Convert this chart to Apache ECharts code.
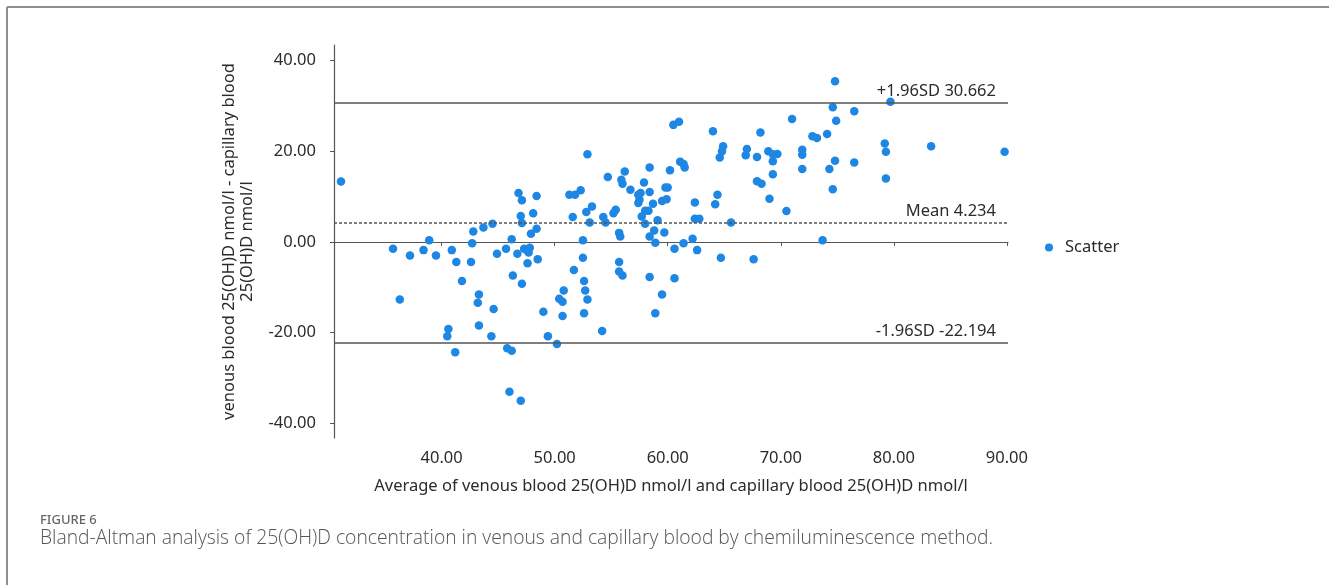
<!DOCTYPE html>
<html>
<head>
<meta charset="utf-8">
<title>Bland-Altman analysis of 25(OH)D</title>
<script src="https://cdn.jsdelivr.net/npm/echarts@6/dist/echarts.min.js"></script>
<style>
  html, body { margin: 0; padding: 0; background: #ffffff; }
  #chart { width: 1329px; height: 585px; }
</style>
</head>
<body>
<div id="chart"></div>
<script>
// Average of venous and capillary 25(OH)D (nmol/l), one entry per subject
const avgValues = [
  31.1, 35.7, 36.3, 37.2, 38.4, 38.9, 39.5, 40.9, 41.3, 41.8,
  40.6, 40.5, 41.2, 42.6, 42.7, 42.8, 43.7, 44.5, 43.3, 43.2,
  43.3, 44.6, 44.4, 44.9, 45.7, 46.2, 46.3, 47.1, 45.8, 46.2,
  46.0, 47.0, 46.8, 47.1, 48.4, 47.0, 47.1, 48.1, 47.9, 48.4,
  46.7, 47.3, 47.6, 47.8, 47.7, 47.6, 48.5, 49.0, 49.4, 50.2,
  50.4, 50.7, 50.8, 50.7, 51.7, 51.6, 51.3, 51.8, 52.3, 52.5,
  52.5, 52.6, 52.7, 52.9, 52.6, 52.9, 52.8, 53.3, 53.1, 54.2,
  54.3, 54.5, 54.7, 55.2, 55.4, 55.7, 55.8, 55.7, 55.7, 56.0,
  55.9, 56.0, 56.2, 56.7, 57.4, 57.6, 57.4, 57.5, 57.9, 58.4,
  58.4, 57.7, 58.0, 58.3, 58.7, 58.0, 58.4, 58.8, 59.1, 58.9,
  59.7, 58.4, 59.5, 58.9, 59.5, 59.9, 59.8, 60.0, 60.2, 60.5,
  61.0, 61.1, 61.4, 61.5, 60.6, 60.6, 61.4, 62.2, 62.6, 62.4,
  62.4, 62.8, 64.0, 64.4, 64.2, 65.6, 64.7, 64.6, 64.8, 64.9,
  67.0, 66.9, 67.9, 68.2, 68.9, 69.3, 69.3, 69.3, 67.9, 68.3,
  69.0, 67.6, 69.7, 70.5, 71.0, 71.9, 71.9, 71.9, 72.8, 73.2,
  73.7, 74.1, 74.3, 74.6, 74.6, 74.8, 74.9, 74.8, 76.5, 76.5,
  79.2, 79.3, 79.3, 79.7, 83.3, 89.8
];

// Venous minus capillary 25(OH)D (nmol/l), same order as avgValues
const diffValues = [
  13.3, -1.5, -12.7, -3.0, -1.8, 0.4, -3.0, -1.8, -4.4, -8.6,
  -19.2, -20.8, -24.3, -4.4, -0.3, 2.3, 3.2, 4.0, -11.6, -13.4,
  -18.4, -14.8, -20.8, -2.6, -1.5, 0.6, -7.4, -9.2, -23.4, -24.0,
  -33.0, -35.0, 10.8, 9.2, 10.1, 5.7, 4.2, 6.3, 1.8, 2.9,
  -2.6, -1.5, -2.0, -1.3, -2.3, -4.7, -3.8, -15.4, -20.8, -22.5,
  -12.5, -13.2, -10.7, -16.3, -6.2, 5.5, 10.4, 10.4, 11.4, 0.4,
  -3.5, -8.6, -10.7, -12.7, -15.7, 19.3, 6.6, 7.8, 4.3, -19.6,
  5.5, 4.3, 14.3, 6.3, 7.1, 2.0, 1.2, -4.4, -6.5, -7.4,
  13.7, 12.8, 15.5, 11.5, 10.4, 10.8, 8.6, 9.3, 13.1, 16.4,
  11.0, 5.6, 6.9, 6.9, 8.4, 4.0, 1.2, 2.5, 4.8, -0.2,
  2.1, -7.7, -11.6, -15.7, 9.0, 9.4, 12.0, 12.0, 15.8, 25.8,
  26.5, 17.7, 17.2, 16.4, -1.5, -8.0, -0.3, 0.7, -1.8, 8.7,
  5.1, 5.1, 24.4, 10.4, 8.3, 4.3, -3.5, 18.6, 20.0, 21.1,
  20.5, 19.1, 18.7, 24.1, 20.0, 19.3, 17.8, 14.9, 13.4, 12.8,
  9.5, -3.8, 19.4, 6.8, 27.1, 20.3, 19.2, 16.1, 23.3, 22.9,
  0.4, 23.8, 16.1, 11.6, 29.7, 35.4, 26.7, 17.9, 28.8, 17.5,
  21.7, 19.9, 14.0, 30.9, 21.1, 19.9
];

// Agreement statistics
const meanDiff = 4.234;
const upperLimit = 30.662;
const lowerLimit = -22.194;

// Tick labels
const xTicks = [40, 50, 60, 70, 80, 90];
const yTicks = [-40, -20, 0, 20, 40];

const seriesName = 'Scatter';
const xAxisTitle = 'Average of venous blood 25(OH)D nmol/l and capillary blood 25(OH)D nmol/l';
const yAxisTitle = 'venous blood 25(OH)D nmol/l - capillary blood\n25(OH)D nmol/l';
const figureLabel = 'FIGURE 6';
const figureCaption = 'Bland-Altman analysis of 25(OH)D concentration in venous and capillary blood by chemiluminescence method.';

const FONT = '"Noto Sans", "Open Sans", sans-serif';
const FS = 16.5;
const INK = '#2b2b2b';
const LINE = '#555555';
const DOT = '#1e86e3';

const points = avgValues.map((x, i) => [x, diffValues[i]]);

const chart = echarts.init(document.getElementById('chart'), null, { renderer: 'canvas' });

const limitLabel = (text) => ({
  show: true,
  formatter: text,
  position: 'insideEndTop',
  distance: [12, 3],
  color: INK,
  fontFamily: FONT,
  fontSize: FS
});

chart.setOption({
  animation: false,
  backgroundColor: '#ffffff',
  textStyle: { fontFamily: FONT },
  grid: { left: 334, right: 321, top: 45, bottom: 147, containLabel: false },
  legend: {
    data: [seriesName],
    left: 1040,
    top: 234,
    icon: 'circle',
    itemWidth: 8,
    itemHeight: 8,
    textStyle: { color: INK, fontFamily: FONT, fontSize: FS, padding: [0, 0, 0, 7] }
  },
  xAxis: {
    type: 'value',
    min: 30.48,
    max: 90.1,
    name: xAxisTitle,
    nameLocation: 'middle',
    nameGap: 40,
    nameTextStyle: { color: INK, fontFamily: FONT, fontSize: FS },
    axisLine: { show: true, lineStyle: { color: LINE, width: 1.2 } },
    axisTick: { show: true, length: 4, customValues: xTicks, lineStyle: { color: LINE } },
    axisLabel: {
      customValues: xTicks,
      color: INK, fontFamily: FONT, fontSize: FS, margin: 12,
      formatter: (v) => v.toFixed(2)
    },
    splitLine: { show: false }
  },
  yAxis: {
    type: 'value',
    min: -43.2,
    max: 43.4,
    name: yAxisTitle,
    nameLocation: 'middle',
    nameGap: 78,
    nameTextStyle: { color: INK, fontFamily: FONT, fontSize: FS, lineHeight: 18, align: 'center' },
    axisLine: { show: true, lineStyle: { color: LINE, width: 1.2 } },
    axisTick: { show: true, length: 4, customValues: yTicks, lineStyle: { color: LINE } },
    axisLabel: {
      customValues: yTicks,
      color: INK, fontFamily: FONT, fontSize: FS, margin: 18,
      formatter: (v) => v.toFixed(2)
    },
    splitLine: { show: false }
  },
  series: [{
    name: seriesName,
    type: 'scatter',
    data: points,
    symbol: 'circle',
    symbolSize: 8.5,
    itemStyle: { color: DOT, opacity: 1 },
    markLine: {
      silent: true,
      symbol: ['none', 'none'],
      data: [
        { yAxis: upperLimit, lineStyle: { type: 'solid', color: LINE, width: 1.5 },
          label: limitLabel('+1.96SD ' + upperLimit.toFixed(3)) },
        { yAxis: meanDiff, lineStyle: { type: [3, 2], color: LINE, width: 1.5 },
          label: limitLabel('Mean ' + meanDiff.toFixed(3)) },
        { yAxis: lowerLimit, lineStyle: { type: 'solid', color: LINE, width: 1.5 },
          label: limitLabel('-1.96SD ' + lowerLimit.toFixed(3)) }
      ]
    }
  }],
  graphic: [
    // figure frame: top and left rules
    { type: 'line', shape: { x1: 7, y1: 7, x2: 1329, y2: 7 }, style: { stroke: '#8f8f8f', lineWidth: 2 } },
    { type: 'line', shape: { x1: 7, y1: 7, x2: 7, y2: 585 }, style: { stroke: '#8f8f8f', lineWidth: 2 } },
    {
      type: 'text', left: 40, top: 514,
      style: { text: figureLabel, fill: '#666666', font: '500 13px "Noto Sans", sans-serif' }
    },
    {
      type: 'text', left: 40, top: 529,
      style: { text: figureCaption, fill: '#555555', font: '300 19.3px "Open Sans", sans-serif' }
    }
  ]
});
</script>
</body>
</html>
